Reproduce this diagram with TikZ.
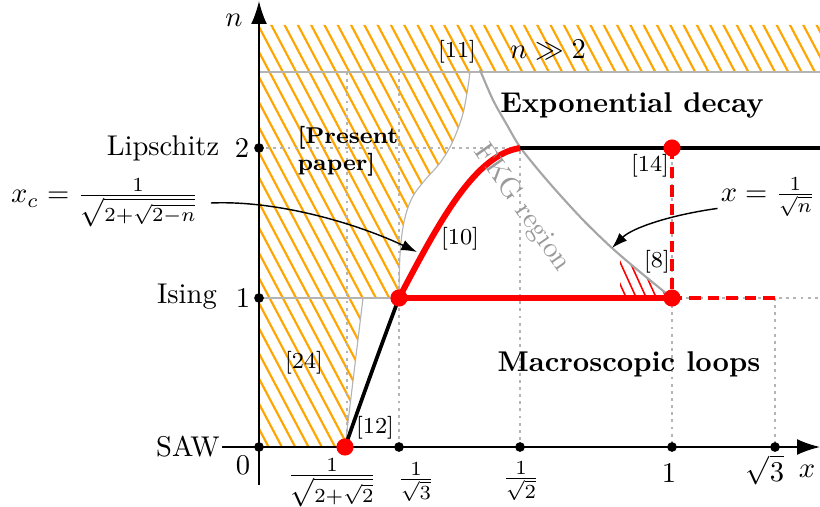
\documentclass[tikz,border=0pt]{standalone}
\usetikzlibrary{arrows.meta}
\definecolor{hatchorange}{HTML}{FFA500}
\definecolor{lgray}{HTML}{B4B4B4}
\definecolor{mgray}{HTML}{A6A6A6}
\definecolor{tgray}{HTML}{9A9A9A}
\definecolor{pred}{HTML}{FF0000}
\begin{document}
\begin{tikzpicture}[x=0.35pt,y=-0.35pt,
  hatchline/.style={draw=hatchorange,line width=0.75pt},
  redhatch/.style={draw=pred,line width=0.55pt},
  thingray/.style={draw=lgray,line width=0.4pt},
  fkgline/.style={draw=mgray,line width=0.75pt},
  gridline/.style={draw=lgray,line width=0.4pt,dash pattern=on 1pt off 1.5pt},
  redthick/.style={draw=pred,line width=2.1pt},
  reddash/.style={draw=pred,line width=1.2pt,dash pattern=on 4pt off 2.5pt},
  blackthick/.style={draw=black,line width=1.3pt},
  axis/.style={draw=black,line width=0.5pt,-{Latex[length=8pt,width=5.5pt]}},
  callout/.style={draw=black,line width=0.5pt,-{Latex[length=5.5pt,width=3.8pt]}},
  dotb/.style={circle,fill=black,inner sep=0pt,minimum size=3.4pt},
  dotr/.style={circle,fill=pred,inner sep=0pt,minimum size=6pt},
  cite/.style={font=\footnotesize,inner sep=1pt},
  boldlab/.style={font=\bfseries,inner sep=1pt},
  plain/.style={inner sep=1pt}]
\useasboundingbox (0,0) rectangle (820,506);

% key points
\coordinate (O) at (259,447);
\coordinate (yN1) at (259,298);
\coordinate (yN2) at (259,148);
\coordinate (xA) at (345,447);
\coordinate (xB) at (399,447);
\coordinate (xC) at (520,447);
\coordinate (xD) at (672,447);
\coordinate (xE) at (775,447);
\coordinate (P1) at (399,298);
\coordinate (P2) at (520,148);
\coordinate (P3) at (672,298);
\coordinate (P4) at (672,148);
\coordinate (R3) at (775,298);
\coordinate (R2) at (820,148);
\coordinate (Q24) at (363,298);
\coordinate (B1) at (259,72);
\coordinate (B2) at (820,72);
\coordinate (G1) at (347,72);
\coordinate (G2) at (399,72);
\coordinate (G3) at (820,298);
\coordinate (G4) at (347,447);
\coordinate (xctip) at (417,252);
\coordinate (fkgtip) at (612,248);

% orange hatching
\begin{scope}
\clip (259,25) -- (820,25) -- (820,72) -- plot[smooth,tension=0.6] coordinates {(470,72) (467,93) (462,117) (452,143) (440,163) (425,180) (412,198) (404,222) (400,255) (399,298)} -- (Q24) -- (xA) -- (O) -- cycle;
\foreach \a in {0,13.3,...,840} \draw[hatchline] (\a,15) -- ++(270,510);
\end{scope}

% red hatching [8]
\begin{scope}
\clip (620,256) -- (640,272) -- (P3) -- (620,298) -- cycle;
\foreach \a in {560,570,...,700} \draw[redhatch] (\a,240) -- ++(30,66);
\end{scope}

% grid lines
\draw[gridline] (G1) -- (G4);
\draw[gridline] (G2) -- (xB);
\draw[gridline] (yN2) -- (P2) -- (xC);
\draw[gridline] (P4) -- (xD);
\draw[gridline] (P3) -- (G3);
\draw[gridline] (R3) -- (xE);

% gray boundaries
\draw[thingray] (B1) -- (B2);
\draw[thingray] plot[smooth,tension=0.6] coordinates {(470,72) (467,93) (462,117) (452,143) (440,163) (425,180) (412,198) (404,222) (400,255) (399,298)};
\draw[thingray] (yN1) -- (P1);
\draw[thingray] (Q24) -- (xA);
\draw[fkgline] plot[smooth] coordinates {(480,70) (493,100) (507,125) (520,147) (540,172) (560,195) (585,222) (612,248) (640,272) (672,298)};

% curves
\draw[blackthick] (P2) -- (R2);
\draw[blackthick] (xA) .. controls (365,390) and (385,335) .. (P1);
\draw[reddash] (P4) -- (P3) -- (R3);
\draw[redthick] (P1) -- (P3);
\draw[redthick] (P1) .. controls (440,220) and (475,155) .. (P2);

% axes
\coordinate (xstart) at (222,447);
\coordinate (xend) at (820,447);
\coordinate (ystart) at (259,485);
\coordinate (yend) at (259,1);
\draw[axis] (xstart) -- (xend);
\draw[axis] (ystart) -- (yend);

% dots
\foreach \p in {yN2,yN1,O,xB,xC,xD,xE} \node[dotb] at (\p) {};
\foreach \p in {xA,P1,P3,P4} \node[dotr] at (\p) {};

% labels
\node[plain] (nlab) at (234,20) {$n$};
\node[plain] (xlab) at (807,471) {$x$};
\node[plain] (lips) at (163,148) {Lipschitz};
\node[plain] (two) at (242,148) {2};
\node[plain] (ising) at (187,297) {Ising};
\node[plain] (one) at (243,298) {1};
\node[plain] (saw) at (188,447) {SAW};
\node[plain] (zero) at (243,465) {0};
\node[plain] (fa) at (332,483) {$\frac{1}{\sqrt{2+\sqrt{2}}}$};
\node[plain] (fb) at (416,482) {$\frac{1}{\sqrt{3}}$};
\node[plain] (fc) at (521,481) {$\frac{1}{\sqrt{2}}$};
\node[plain] (fd) at (669,473) {1};
\node[plain] (fe) at (765,470) {$\sqrt{3}$};
\node[cite] (c11) at (457,52) {[11]};
\node[plain] (ngg) at (548,50) {$n\gg 2$};
\node[boldlab] (expd) at (632,105) {Exponential decay};
\node[boldlab] (macl) at (629,364) {Macroscopic loops};
\node[font=\footnotesize\bfseries,align=left,anchor=west,inner sep=0pt] (pres) at (297,151) {[Present\\paper]};
\node[cite] (c14) at (650,166) {[14]};
\node[cite] (c8) at (657,262) {[8]};
\node[cite] (c10) at (460,239) {[10]};
\node[cite] (c24) at (304,363) {[24]};
\node[cite] (c12) at (375,428) {[12]};
\node[text=tgray,rotate=-55,inner sep=0pt] (fkg) at (522,208) {FKG region};
\node[plain] (xclab) at (105,203) {$x_c=\frac{1}{\sqrt{2+\sqrt{2-n}}}$};
\node[plain] (sqlab) at (768,197) {$x=\frac{1}{\sqrt{n}}$};

% callouts
\draw[callout] ([xshift=3pt]xclab.east) .. controls (280,200) and (360,225) .. (xctip);
\draw[callout] ([yshift=-4pt]sqlab.west) .. controls (670,215) and (632,228) .. (fkgtip);
\end{tikzpicture}
\end{document}
